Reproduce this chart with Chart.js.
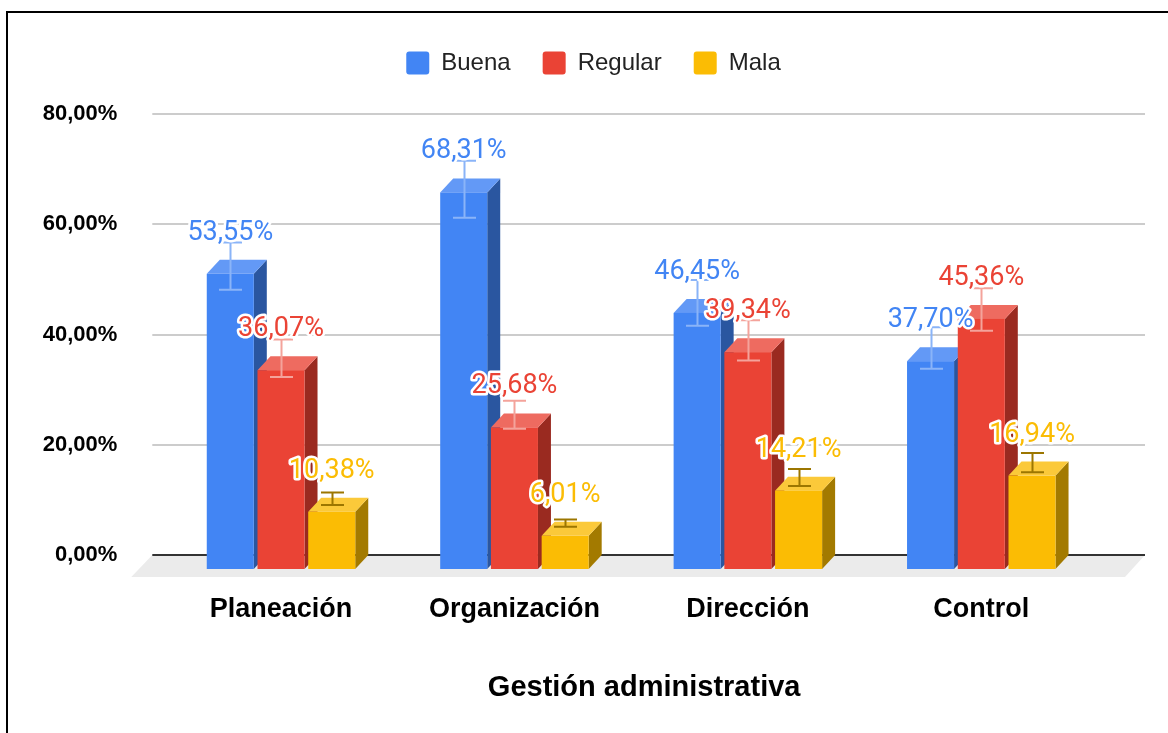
<!DOCTYPE html>
<html>
<head>
<meta charset="utf-8">
<script src="https://cdn.jsdelivr.net/npm/chart.js@4.4.1/dist/chart.umd.min.js"></script>
<style>
  html, body { margin: 0; padding: 0; background: #fff; }
  #wrap { position: relative; width: 1168px; height: 733px; overflow: hidden; }
  #frame { position: absolute; left: 6px; top: 11px; width: 1200px; height: 800px;
           border-top: 2px solid #000; border-left: 2px solid #000; pointer-events: none; }
  canvas { position: absolute; left: 0; top: 0; }
</style>
</head>
<body>
<div id="wrap">
  <div id="frame"></div>
  <canvas id="chart" width="1168" height="733"></canvas>
</div>
<script>
// data
const categories = ['Planeación', 'Organización', 'Dirección', 'Control'];
const seriesNames = ['Buena', 'Regular', 'Mala'];
const buena = [53.55, 68.31, 46.45, 37.70];
const regular = [36.07, 25.68, 39.34, 45.36];
const mala = [10.38, 6.01, 14.21, 16.94];

// error bar ends [low, high]
const buenaErr = [[48.1, 56.7], [61.2, 71.5], [41.6, 49.9], [33.8, 41.3]];
const regularErr = [[32.3, 39.1], [22.9, 28.0], [35.3, 42.6], [40.7, 48.4]];
const malaErr = [[9.05, 11.35], [5.12, 6.46], [12.5, 15.6], [15.0, 18.5]];

const yTicks = [0, 20, 40, 60, 80];

// colours: front, top, side, error bar
const frontColors = ['#4285F4', '#EA4335', '#FBBC04'];
const topColors = ['#6399F6', '#EE6B60', '#FBC93A'];
const sideColors = ['#2A56A0', '#9A2A20', '#A37A00'];
const errColors = ['#8AB4F8', '#F4A39B', '#9C7600'];

const errors = [buenaErr, regularErr, malaErr];

function fmtPct(v) {
    return v.toFixed(2).replace('.', ',') + '%';
}

const AXIS_FONT = "'Liberation Sans', Arial, sans-serif";
const LABEL_FONT = "Roboto, 'Liberation Sans', sans-serif";

// depth of the 3d bars
const DX = 13, DY = 14;

// draws floor, grid, bars, error bars and labels instead of the flat bars
const scene3d = {
    id: 'scene3d',
    beforeInit(chart) {
        // extra room under the legend
        const fit = chart.legend.fit;
        chart.legend.fit = function () {
            fit.bind(this)();
            this.height += 29;
        };
    },
    afterLayout(chart) {
        // legend is centred a bit right of the canvas middle
        chart.legend.left = 76;
    },
    beforeDatasetsDraw(chart) {
        const ctx = chart.ctx;
        const ys = chart.scales.y;
        const area = chart.chartArea;
        const gl = area.left - 25, gr = area.right + 34;
        const y0 = ys.getPixelForValue(0);

        ctx.save();
        // floor
        ctx.fillStyle = '#EBEBEB';
        ctx.beginPath();
        ctx.moveTo(gl, y0);
        ctx.lineTo(gr, y0);
        ctx.lineTo(gr - 20, y0 + 22);
        ctx.lineTo(gl - 21, y0 + 22);
        ctx.closePath();
        ctx.fill();

        // grid lines
        ctx.strokeStyle = '#CCCCCC';
        ctx.lineWidth = 2;
        ys.ticks.forEach(t => {
            if (t.value === 0) return;
            const y = Math.round(ys.getPixelForValue(t.value));
            ctx.beginPath();
            ctx.moveTo(gl, y);
            ctx.lineTo(gr, y);
            ctx.stroke();
        });
        ctx.strokeStyle = '#333333';
        ctx.beginPath();
        ctx.moveTo(gl, Math.round(y0));
        ctx.lineTo(gr, Math.round(y0));
        ctx.stroke();

        // bars
        const metas = chart.data.datasets.map((d, i) => chart.getDatasetMeta(i));
        categories.forEach((c, i) => {
            metas.forEach((meta, j) => {
                const bar = meta.data[i];
                const w = bar.width - 3.7;
                const x0 = bar.x - w / 2, x1 = bar.x + w / 2;
                const top = bar.y, base = bar.base;
                // side
                ctx.fillStyle = sideColors[j];
                ctx.beginPath();
                ctx.moveTo(x1 - DX, top + DY);
                ctx.lineTo(x1, top);
                ctx.lineTo(x1, base);
                ctx.lineTo(x1 - DX, base + DY);
                ctx.closePath();
                ctx.fill();
                // top
                ctx.fillStyle = topColors[j];
                ctx.beginPath();
                ctx.moveTo(x0 - DX, top + DY);
                ctx.lineTo(x0, top);
                ctx.lineTo(x1, top);
                ctx.lineTo(x1 - DX, top + DY);
                ctx.closePath();
                ctx.fill();
                // front
                ctx.fillStyle = frontColors[j];
                ctx.fillRect(x0 - DX, top + DY, w, base - top);
            });
        });

        // error bars
        ctx.lineWidth = 2;
        metas.forEach((meta, j) => {
            ctx.strokeStyle = errColors[j];
            meta.data.forEach((bar, i) => {
                const cx = Math.round(bar.x - DX) + 0.5;
                const lo = ys.getPixelForValue(errors[j][i][0]);
                const hi = ys.getPixelForValue(errors[j][i][1]);
                ctx.beginPath();
                ctx.moveTo(cx, lo);
                ctx.lineTo(cx, hi);
                ctx.moveTo(cx - 11.5, lo);
                ctx.lineTo(cx + 11.5, lo);
                ctx.moveTo(cx - 11.5, hi);
                ctx.lineTo(cx + 11.5, hi);
                ctx.stroke();
            });
        });

        // value labels
        ctx.font = '27px ' + LABEL_FONT;
        ctx.textAlign = 'center';
        ctx.textBaseline = 'alphabetic';
        ctx.lineJoin = 'round';
        metas.forEach((meta, j) => {
            const values = chart.data.datasets[j].data;
            meta.data.forEach((bar, i) => {
                const tx = bar.x - DX;
                const ty = bar.y - 20;
                const txt = fmtPct(values[i]);
                ctx.strokeStyle = '#FFFFFF';
                ctx.lineWidth = 5;
                ctx.strokeText(txt, tx, ty);
                ctx.fillStyle = frontColors[j];
                ctx.fillText(txt, tx, ty);
            });
        });
        ctx.restore();
        return false;
    }
};

const ctx = document.getElementById('chart').getContext('2d');
const chart = new Chart(ctx, {
    type: 'bar',
    data: {
        labels: categories,
        datasets: [
            { label: seriesNames[0], data: buena, backgroundColor: frontColors[0], borderWidth: 0 },
            { label: seriesNames[1], data: regular, backgroundColor: frontColors[1], borderWidth: 0 },
            { label: seriesNames[2], data: mala, backgroundColor: frontColors[2], borderWidth: 0 }
        ]
    },
    options: {
        responsive: false,
        animation: false,
        events: [],
        categoryPercentage: 0.652,
        barPercentage: 1,
        layout: { padding: { left: 0, right: 57, top: 19, bottom: 0 } },
        plugins: {
            tooltip: { enabled: false },
            legend: {
                position: 'top',
                labels: {
                    boxWidth: 23,
                    boxHeight: 23,
                    padding: 32,
                    useBorderRadius: true,
                    borderRadius: 3,
                    color: '#222222',
                    font: { family: AXIS_FONT, size: 24 }
                }
            }
        },
        scales: {
            x: {
                grid: { display: false, drawTicks: false },
                border: { display: false },
                ticks: {
                    padding: 38,
                    labelOffset: -DX,
                    color: '#000000',
                    font: { family: AXIS_FONT, size: 27, weight: 'bold' }
                },
                title: {
                    display: true,
                    text: 'Gestión administrativa',
                    color: '#000000',
                    font: { family: AXIS_FONT, size: 29, weight: 'bold' },
                    padding: { top: 0, bottom: 28 }
                },
                afterFit(scale) { scale.height = 178; }
            },
            y: {
                min: 0,
                max: 80,
                afterBuildTicks(scale) { scale.ticks = yTicks.map(v => ({ value: v })); },
                grid: { display: false, drawTicks: false },
                border: { display: false },
                ticks: {
                    padding: 60,
                    color: '#000000',
                    font: { family: AXIS_FONT, size: 22, weight: 'bold' },
                    callback: v => fmtPct(v)
                },
                afterFit(scale) { scale.width = 177.3; }
            }
        }
    },
    plugins: [scene3d]
});
</script>
</body>
</html>
